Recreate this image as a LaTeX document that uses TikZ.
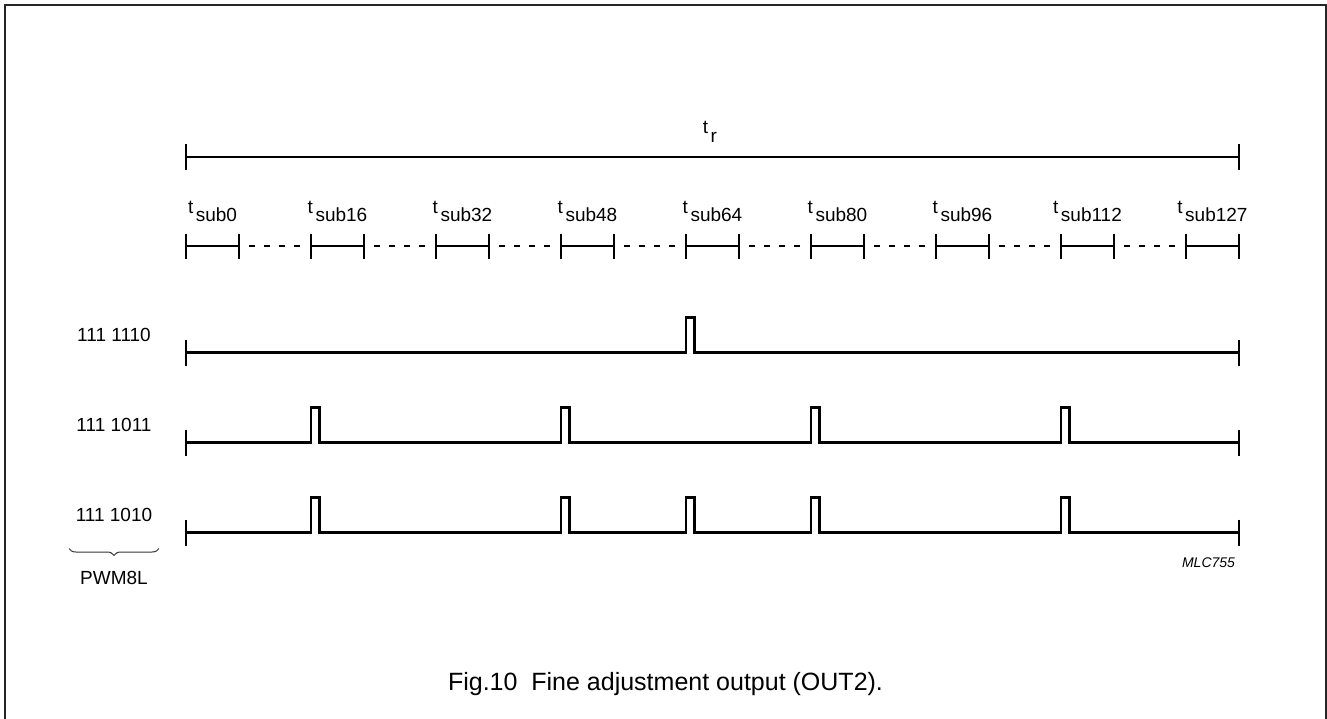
\documentclass[tikz,border=0pt]{standalone}
\usepackage{fontspec}
\setmainfont{Liberation Sans}
\usetikzlibrary{decorations.pathreplacing}
\newcommand{\tsub}[1]{t\hspace{2.5pt}\raisebox{-8pt}{#1}}
\begin{document}
\begin{tikzpicture}[x=1pt,y=-1pt,
  wave/.style={line width=2.6pt,line join=miter},
  tickl/.style={line width=1.3pt},
  dashl/.style={line width=1.3pt,dash pattern=on 6pt off 9pt},
  lbl/.style={inner sep=0pt,anchor=base,font=\fontsize{19}{22}\selectfont},
  frame/.style={line width=2pt,draw=black!85}]
\useasboundingbox (0,0) rectangle (1327,718);
% frame
\draw[frame] (5,720) -- (5,5) -- (1325.5,5) -- (1325.5,720);
% t_r
\coordinate (trl) at (186,157);
\coordinate (trr) at (1239,157);
\draw[wave] (trl) -- (trr);
\draw[tickl] (186,144) -- (186,170) (1239,144) -- (1239,170);
\node[lbl] (tr) at (710,133) {t\hspace{2.5pt}\raisebox{-9pt}{r}};
% t_sub segments
\foreach \x/\n [count=\i] in {186/sub0,311/sub16,436/sub32,561/sub48,686/sub64,811/sub80,936/sub96,1061/sub112,1186/sub127}{
  \coordinate (s\i a) at (\x,246);
  \coordinate (s\i b) at (\x+53,246);
  \draw[wave] (s\i a) -- (s\i b);
  \draw[tickl] (\x,233.5) -- (\x,258.5) (\x+53,233.5) -- (\x+53,258.5);
  \node[lbl] (l\i) at (\x+26.5,213) {\tsub{\n}};
}
\foreach \i in {1,...,8}{
  \pgfmathtruncatemacro{\j}{\i+1}
  \draw[dashl] ([xshift=10pt]s\i b) -- ([xshift=-9pt]s\j a);
}
% row 1: 111 1110
\node[lbl] (r1) at (114,341) {111 1110};
\draw[wave] (186,352.5) -- (686,352.5) -- (686,317.5) -- (694.5,317.5) -- (694.5,352.5) -- (1239,352.5);
\draw[tickl] (186,339.5) -- (186,365.5) (1239,339.5) -- (1239,365.5);
% row 2: 111 1011
\node[lbl] (r2) at (114,431) {111 1011};
\draw[wave] (186,442.5)
  -- (311,442.5) -- (311,407.5) -- (319.5,407.5) -- (319.5,442.5)
  -- (561,442.5) -- (561,407.5) -- (569.5,407.5) -- (569.5,442.5)
  -- (811,442.5) -- (811,407.5) -- (819.5,407.5) -- (819.5,442.5)
  -- (1061,442.5) -- (1061,407.5) -- (1069.5,407.5) -- (1069.5,442.5)
  -- (1239,442.5);
\draw[tickl] (186,429.5) -- (186,455.5) (1239,429.5) -- (1239,455.5);
% row 3: 111 1010
\node[lbl] (r3) at (114,521) {111 1010};
\draw[wave] (186,532.5)
  -- (311,532.5) -- (311,497.5) -- (319.5,497.5) -- (319.5,532.5)
  -- (561,532.5) -- (561,497.5) -- (569.5,497.5) -- (569.5,532.5)
  -- (686,532.5) -- (686,497.5) -- (694.5,497.5) -- (694.5,532.5)
  -- (811,532.5) -- (811,497.5) -- (819.5,497.5) -- (819.5,532.5)
  -- (1061,532.5) -- (1061,497.5) -- (1069.5,497.5) -- (1069.5,532.5)
  -- (1239,532.5);
\draw[tickl] (186,519.5) -- (186,545.5) (1239,519.5) -- (1239,545.5);
% brace
\coordinate (bl) at (69,548.5);
\coordinate (br) at (159,548.5);
\draw[line width=1pt,draw=black!80,decorate,decoration={brace,mirror,amplitude=7pt}] (bl) -- (br);
\node[lbl] (pwm) at (114,584) {PWM8L};
% code
\node[inner sep=0pt,anchor=base,font=\fontsize{14}{16}\selectfont\itshape] (mlc) at (1208.5,567) {MLC755};
% caption
\node[inner sep=0pt,anchor=base,font=\fontsize{25}{30}\selectfont] (cap) at (665.5,690) {Fig.10\ \ Fine adjustment output (OUT2).};
\end{tikzpicture}
\end{document}
